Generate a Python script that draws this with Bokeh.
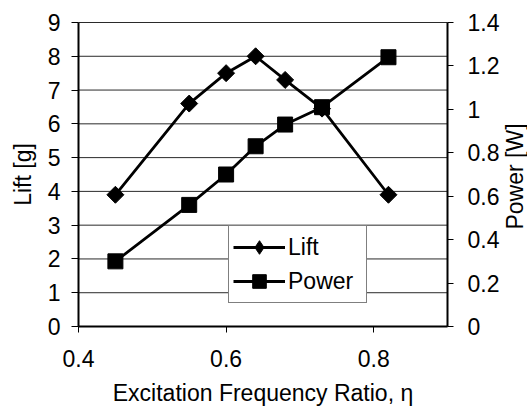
import numpy as np
from bokeh.plotting import figure
from bokeh.models import (Range1d, LinearAxis, FixedTicker, CustomJSTickFormatter,
                          Legend, LegendItem, Label)
from bokeh.embed import file_html
from bokeh.resources import INLINE

# ---- data ----
eta = [0.45, 0.55, 0.60, 0.64, 0.68, 0.73, 0.82]
lift = [3.9, 6.6, 7.5, 8.0, 7.3, 6.45, 3.9]
power = [0.30, 0.56, 0.70, 0.83, 0.93, 1.01, 1.24]

x_ticks = [0.4, 0.6, 0.8]
x_bounds = (0.4, 0.9)
lift_ticks = [0, 1, 2, 3, 4, 5, 6, 7, 8, 9]
lift_bounds = (0, 9)
power_ticks = [0, 0.2, 0.4, 0.6, 0.8, 1.0, 1.2, 1.4]
power_bounds = (0, 1.4)

FONT = "Liberation Sans"
FS = "23px"

# ---- layout (pixels): plot box inside the full canvas ----
W, H = 527, 412
BOX_L, BOX_R, BOX_T, BOX_B = 78, 447, 22, 326   # canvas pixels of the axes box


def span(lo, hi, a, b, total):
    """data range covering the whole canvas, given lo->pixel a and hi->pixel b"""
    per = (hi - lo) / (b - a)
    return lo - a * per, hi + (total - b) * per


x0, x1 = span(x_bounds[0], x_bounds[1], BOX_L, BOX_R, W)
y0, y1 = span(lift_bounds[0], lift_bounds[1], H - BOX_B, H - BOX_T, H)
q0, q1 = span(power_bounds[0], power_bounds[1], H - BOX_B, H - BOX_T, H)

p = figure(width=W, height=H, output_backend="svg", toolbar_location=None,
           x_range=Range1d(x0, x1), y_range=Range1d(y0, y1), min_border=0)
p.extra_y_ranges = {"power": Range1d(q0, q1)}
p.outline_line_color = None
p.background_fill_color = "white"
p.border_fill_color = "white"
p.xgrid.visible = False
p.ygrid.visible = False

# horizontal grid lines at the lift ticks, limited to the plotted x-interval
n = len(lift_ticks)
p.segment(x0=[x_bounds[0]] * n, x1=[x_bounds[1]] * n, y0=lift_ticks, y1=lift_ticks,
          line_color="#2a2a2a", line_width=1)

# bottom axis
xa = p.xaxis[0]
xa.fixed_location = lift_bounds[0]
xa.bounds = x_bounds
xa.ticker = FixedTicker(ticks=x_ticks)
xa.minor_tick_line_color = None
xa.major_tick_out = 6
xa.major_tick_in = 0
xa.axis_line_width = 2
xa.major_label_text_font = FONT
xa.major_label_text_font_size = FS
xa.major_label_text_color = "black"
xa.major_label_standoff = 17
xa.axis_label = "Excitation Frequency Ratio, \u03b7"
xa.axis_label_text_font = FONT
xa.axis_label_text_font_size = FS
xa.axis_label_text_font_style = "normal"
xa.axis_label_text_color = "black"
xa.axis_label_standoff = 10

# left axis
ya = p.yaxis[0]
ya.fixed_location = x_bounds[0]
ya.bounds = lift_bounds
ya.ticker = FixedTicker(ticks=lift_ticks)
ya.minor_tick_line_color = None
ya.major_tick_out = 7
ya.major_tick_in = 0
ya.axis_line_width = 2
ya.major_label_text_font = FONT
ya.major_label_text_font_size = FS
ya.major_label_text_color = "black"
ya.major_label_standoff = 11
ya.axis_label = "Lift [g]"
ya.axis_label_text_font = FONT
ya.axis_label_text_font_size = FS
ya.axis_label_text_font_style = "normal"
ya.axis_label_text_color = "black"
ya.axis_label_standoff = 9

# right axis
ra = LinearAxis(y_range_name="power", ticker=FixedTicker(ticks=power_ticks),
                fixed_location=x_bounds[1], bounds=power_bounds,
                formatter=CustomJSTickFormatter(code="return String(Number(tick.toFixed(1)));"))
ra.minor_tick_line_color = None
ra.major_tick_out = 6
ra.major_tick_in = 0
ra.axis_line_width = 2
ra.major_label_text_font = FONT
ra.major_label_text_font_size = FS
ra.major_label_text_color = "black"
ra.major_label_standoff = 14
p.add_layout(ra, "right")

# right-hand title, reading upwards
p.add_layout(Label(x=514, y=H - 176, x_units="screen", y_units="screen", text="Power [W]",
                   angle=np.pi / 2, text_align="center", text_baseline="middle",
                   text_font=FONT, text_font_size=FS, text_color="black"))

# series
l_line = p.line(eta, lift, line_color="black", line_width=2.8)
l_pts = p.scatter(eta, lift, marker="square", angle=np.pi / 4, size=12,
                  fill_color="black", line_color="black", line_width=1)
p_line = p.line(eta, power, y_range_name="power", line_color="black", line_width=2.8)
p_pts = p.scatter(eta, power, y_range_name="power", marker="square", size=15,
                  fill_color="black", line_color="black", line_width=1)
# hidden diamond renderer, used only for the legend key
l_key = p.scatter(eta, lift, marker="diamond", size=12, fill_color="black",
                  line_color="black", visible=False)

legend = Legend(items=[LegendItem(label="Lift", renderers=[l_line, l_key]),
                       LegendItem(label="Power", renderers=[p_line, p_pts])],
                location=(228, H - 303), margin=0, padding=4, spacing=0,
                glyph_width=52, glyph_height=34, label_height=34, label_standoff=3,
                label_width=74, inactive_fill_alpha=0,
                label_text_font=FONT, label_text_font_size=FS, label_text_color="black",
                border_line_color="black", border_line_width=1,
                background_fill_color="white", background_fill_alpha=1)
p.add_layout(legend)

open("out.html", "w").write(file_html(p, INLINE))
